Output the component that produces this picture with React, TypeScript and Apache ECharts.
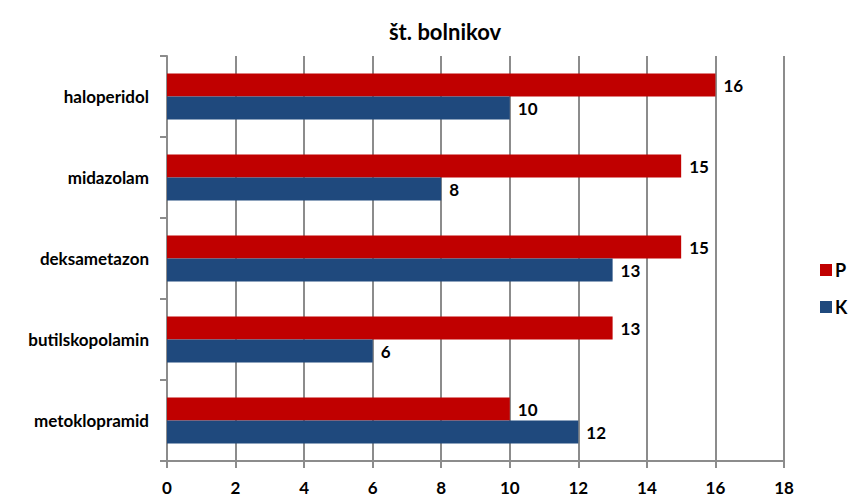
import React, { useEffect, useRef } from "react";
import * as echarts from "echarts";

const categories = ["metoklopramid", "butilskopolamin", "deksametazon", "midazolam", "haloperidol"];
const seriesP = [10, 13, 15, 15, 16];
const seriesK = [12, 6, 13, 8, 10];
const xTicks = [0, 2, 4, 6, 8, 10, 12, 14, 16, 18];

const FONT = "Lato";

export default function App() {
  const ref = useRef<HTMLDivElement>(null);
  useEffect(() => {
    if (!ref.current) return;
    const chart = echarts.init(ref.current, undefined, { renderer: "svg" });
    const label = {
      show: true,
      position: "right" as const,
      color: "#000",
      fontFamily: FONT,
      fontWeight: "bold" as const,
      fontSize: 17,
      distance: 8,
    };
    chart.setOption({
      animation: false,
      backgroundColor: "#fff",
      title: {
        text: "št. bolnikov",
        left: 440,
        textAlign: "center",
        top: 15,
        textStyle: { fontFamily: FONT, fontWeight: "bold", fontSize: 22, color: "#000" },
      },
      legend: {
        orient: "vertical",
        left: 815,
        top: 256,
        icon: "rect",
        itemWidth: 12,
        itemHeight: 12,
        itemGap: 19,
        data: ["P", "K"],
        textStyle: { fontFamily: FONT, fontWeight: "bold", fontSize: 18, color: "#000", padding: [0, 0, 0, -2] },
      },
      grid: { left: 167, right: 71, top: 56, bottom: 42, containLabel: false },
      xAxis: {
        type: "value",
        min: xTicks[0],
        max: xTicks[xTicks.length - 1],
        interval: 2,
        axisLine: { show: true, lineStyle: { color: "#8c8c8c", width: 2 } },
        axisTick: { show: true, length: 7, lineStyle: { color: "#8c8c8c", width: 2 } },
        splitLine: { show: true, lineStyle: { color: "#8c8c8c", width: 2 } },
        axisLabel: { fontFamily: FONT, fontWeight: "bold", fontSize: 17, color: "#000", margin: 18 },
      },
      yAxis: {
        type: "category",
        data: categories,
        axisLine: { show: true, lineStyle: { color: "#8c8c8c", width: 2 } },
        axisTick: { show: true, length: 7, alignWithLabel: false, lineStyle: { color: "#8c8c8c", width: 2 } },
        axisLabel: { fontFamily: FONT, fontWeight: "bold", fontSize: 17, color: "#000", margin: 18 },
      },
      series: [
        {
          name: "P",
          type: "bar",
          data: seriesP,
          barWidth: 23,
          barGap: "0%",
          barCategoryGap: "42%",
          itemStyle: { color: "#C00000" },
          label,
        },
        {
          name: "K",
          type: "bar",
          data: seriesK,
          barWidth: 23,
          barGap: "0%",
          barCategoryGap: "42%",
          itemStyle: { color: "#1F497D" },
          label,
        },
      ],
    });
    return () => chart.dispose();
  }, []);
  return <div ref={ref} style={{ position: "fixed", left: 0, top: 0, width: 855, height: 503 }} />;
}
